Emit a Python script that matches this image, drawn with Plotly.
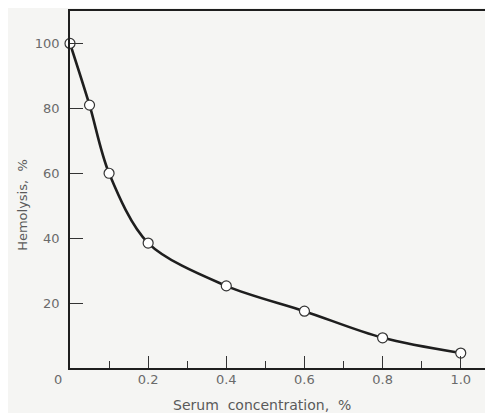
import plotly.graph_objects as go

# Data
serum_conc = [0.0, 0.05, 0.1, 0.2, 0.4, 0.6, 0.8, 1.0]
hemolysis = [100, 81, 60, 38.5, 25.3, 17.5, 9.3, 4.6]

x_tickvals = [0.2, 0.4, 0.6, 0.8, 1.0]
x_ticktext = ["0.2", "0.4", "0.6", "0.8", "1.0"]
y_tickvals = [20, 40, 60, 80, 100]
y_ticktext = ["20", "40", "60", "80", "100"]

x_title = "Serum&nbsp;&nbsp;concentration,&nbsp;&nbsp;%"
y_title = "Hemolysis,&nbsp;&nbsp;%"

ink = "#1e1e1e"
label_grey = "#6a6a6a"
title_grey = "#5a5a5a"
bg = "#f5f5f3"
font_family = "DejaVu Sans, Verdana, sans-serif"

fig = go.Figure()
fig.add_trace(go.Scatter(
    x=serum_conc, y=hemolysis,
    mode="lines+markers",
    line=dict(color=ink, width=2.6, shape="spline", smoothing=0.9),
    marker=dict(symbol="circle", size=10, color="white",
                line=dict(color="#333", width=1.2)),
    cliponaxis=False,
    showlegend=False,
))

fig.add_annotation(x=0, y=0, xref="x", yref="y", text="0", showarrow=False,
                   xshift=-12, yshift=-11,
                   font=dict(family=font_family, size=13, color=label_grey))

# axis titles as annotations (placed off-centre as in the reference)
fig.add_annotation(x=0.455, y=0, xref="paper", yref="paper", text=x_title,
                   showarrow=False, yshift=-37, yanchor="middle",
                   font=dict(family=font_family, size=14, color=title_grey))
fig.add_annotation(x=0, y=0.457, xref="paper", yref="paper", text=y_title,
                   showarrow=False, xshift=-47, xanchor="center", textangle=-90,
                   font=dict(family=font_family, size=13, color=title_grey))

# page body has an 8px default margin, so the figure is sized to fit the window
fig.update_layout(
    width=485, height=405,
    margin=dict(l=62, r=1, t=3, b=45, autoexpand=False),
    paper_bgcolor=bg, plot_bgcolor=bg,
    font=dict(family=font_family, size=13, color=label_grey),
    xaxis=dict(
        range=[0, 1.08],
        automargin=False,
        tickvals=x_tickvals, ticktext=x_ticktext,
        ticks="inside", ticklen=12, tickwidth=1.3, tickcolor="#333",
        minor=dict(ticks="inside", ticklen=7, tickwidth=1.2, tickcolor="#333",
                   tickvals=[0.1, 0.3, 0.5, 0.7, 0.9]),
        showline=True, linecolor=ink, linewidth=1.8, mirror=True,
        showgrid=False, zeroline=False,
        ticklabelstandoff=-2,
        tickfont=dict(size=13, color=label_grey),
    ),
    yaxis=dict(
        range=[0, 110],
        automargin=False,
        tickvals=y_tickvals, ticktext=y_ticktext,
        ticks="inside", ticklen=13, tickwidth=1.3, tickcolor="#333",
        showline=True, linecolor=ink, linewidth=1.8, mirror=True,
        showgrid=False, zeroline=False,
        ticklabelstandoff=6,
        tickfont=dict(size=13, color=label_grey),
    ),
)

fig.write_html("out.html")
